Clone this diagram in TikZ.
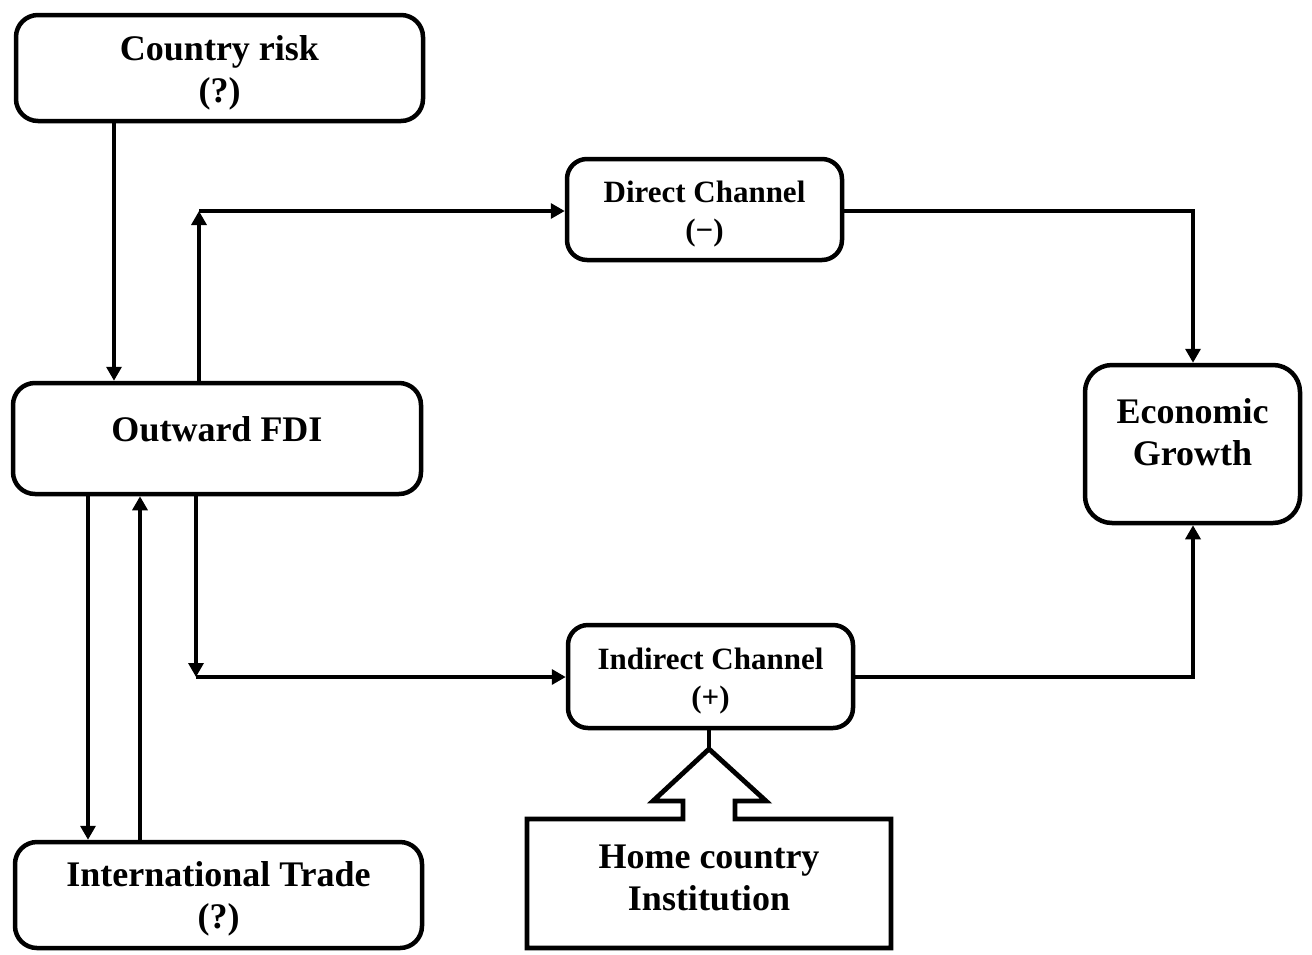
\documentclass[tikz,border=0pt]{standalone}
\usepackage{fontspec}
\setmainfont{Liberation Serif}
\usetikzlibrary{arrows.meta}
\begin{document}
\begin{tikzpicture}[x=1pt,y=-1pt,
  boxst/.style={draw=black, line width=4.5pt, rounded corners=22pt, fill=white, inner sep=0pt},
  bigtxt/.style={font=\fontsize{36}{42}\selectfont\bfseries, align=center, anchor=base, inner sep=0pt},
  smalltxt/.style={font=\fontsize{31}{38}\selectfont\bfseries, align=center, anchor=base, inner sep=0pt},
  arr/.style={line width=3.3pt, -{Triangle[width=15pt,length=14pt]}},
  plain/.style={line width=3.3pt}]
\useasboundingbox (0,0) rectangle (1312,954);
% boxes
\node[boxst, minimum width=407pt, minimum height=106pt] (risk) at (219.5,68) {};
\node[boxst, minimum width=408pt, minimum height=111pt] (fdi) at (217,438.5) {};
\node[boxst, minimum width=407pt, minimum height=106pt] (trade) at (218.5,895) {};
\node[boxst, minimum width=275pt, minimum height=101pt, rounded corners=20pt] (direct) at (704.5,209.5) {};
\node[boxst, minimum width=285pt, minimum height=103pt, rounded corners=20pt] (indirect) at (710.5,676.5) {};
\node[boxst, minimum width=215pt, minimum height=158pt, rounded corners=27pt] (growth) at (1192.5,444) {};
% home country institution block arrow
\draw[line width=4.8pt, line join=miter, fill=white]
  (527,819) -- (683,819) -- (683,801) -- (653,801) -- (709,749) -- (766,801)
  -- (735,801) -- (735,819) -- (891,819) -- (891,948) -- (527,948) -- cycle;
\coordinate (apex) at (709,749);
% texts (anchor base = baseline of last line)
\node[bigtxt] (riskT) at (219.5,102) {Country risk\\(?)};
\node[bigtxt] (fdiT) at (217,441) {Outward FDI};
\node[bigtxt] (tradeT) at (218.5,928) {International Trade\\(?)};
\node[smalltxt] (directT) at (704.5,240) {Direct Channel\\(−)};
\node[smalltxt] (indirectT) at (710.5,707) {Indirect Channel\\(+)};
\node[bigtxt] (growthT) at (1192.5,465) {Economic\\Growth};
\node[bigtxt] (homeT) at (709,910) {Home country\\Institution};
% junction coordinates
\coordinate (cx1) at (88,0);
\coordinate (cx2) at (114,0);
\coordinate (cx3) at (140,0);
\coordinate (j1) at (199,211);
\coordinate (j2) at (196,677);
\coordinate (j3) at (1193,211);
\coordinate (j4) at (1193,677);
% connectors
\draw[arr] (risk.south -| cx2) -- (fdi.north -| cx2);
\draw[arr] (fdi.north -| j1) -- (j1);
\draw[arr] (j1) -- (j1 -| direct.west);
\draw[arr] (direct.east |- j3) -- (j3) -- (growth.north -| j3);
\draw[arr] (fdi.south -| j2) -- (j2);
\draw[arr] (j2) -- (j2 -| indirect.west);
\draw[arr] (indirect.east |- j4) -- (j4) -- (growth.south -| j4);
\draw[arr] (fdi.south -| cx1) -- (trade.north -| cx1);
\draw[arr] (trade.north -| cx3) -- (fdi.south -| cx3);
\draw[plain] (apex) -- (indirect.south -| apex);
\end{tikzpicture}
\end{document}
